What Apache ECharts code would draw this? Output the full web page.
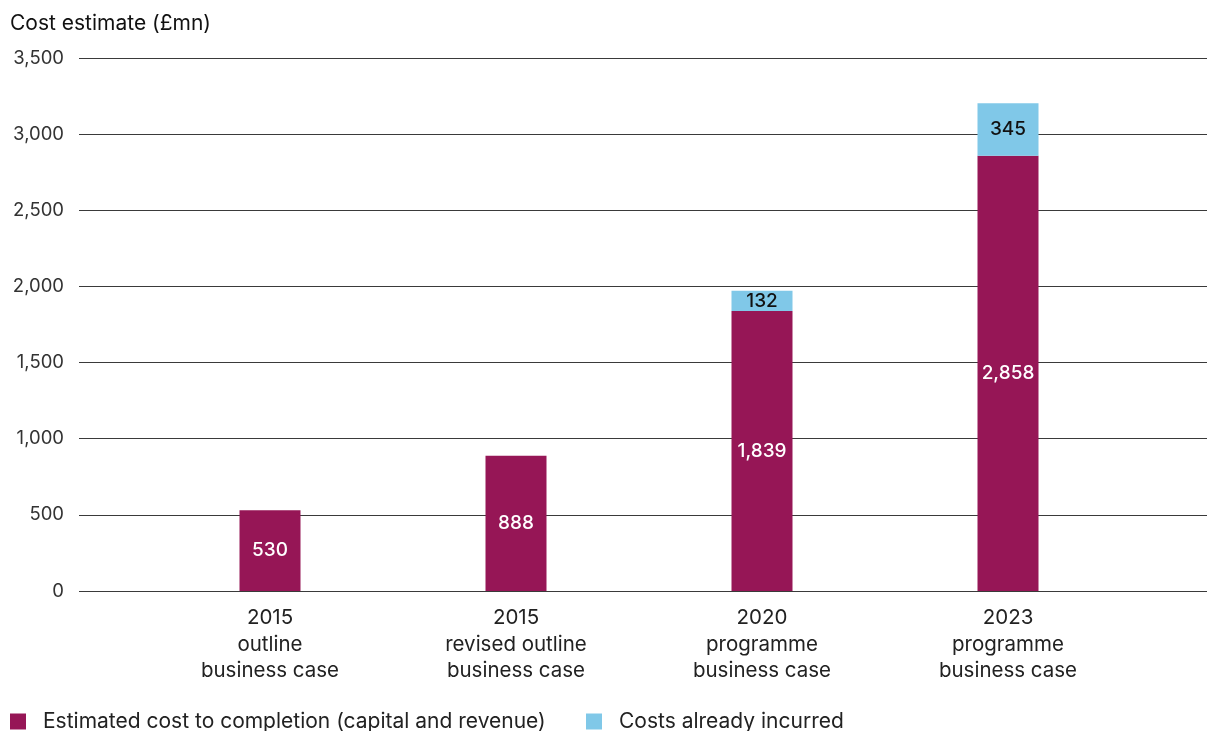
<!DOCTYPE html>
<html>
<head>
<meta charset="utf-8">
<script src="https://cdn.jsdelivr.net/npm/echarts@6/dist/echarts.min.js"></script>
<style>
  html, body { margin: 0; padding: 0; background: #fff; }
  #chart { width: 1207px; height: 731px; }
</style>
</head>
<body>
<div id="chart"></div>
<script>
const categories = [
  '2015\noutline\nbusiness case',
  '2015\nrevised outline\nbusiness case',
  '2020\nprogramme\nbusiness case',
  '2023\nprogramme\nbusiness case'
];
const estimatedToCompletion = [530, 888, 1839, 2858];
const alreadyIncurred = [null, null, 132, 345];
const yTicks = [0, 500, 1000, 1500, 2000, 2500, 3000, 3500];
const seriesNames = ['Estimated cost to completion (capital and revenue)', 'Costs already incurred'];

const FONT = 'Inter, "Liberation Sans", Arial, sans-serif';
const fmt = v => Number(v).toLocaleString('en-GB');

const legendStyle = {
  top: 706,
  itemWidth: 16, itemHeight: 16,
  icon: 'rect',
  textStyle: { fontFamily: FONT, fontSize: 21, color: '#222', padding: [0, 0, 0, 12] }
};

const chart = echarts.init(document.getElementById('chart'));

chart.setOption({
  animation: false,
  textStyle: { fontFamily: FONT },
  title: {
    text: 'Cost estimate (£mn)',
    left: 5, top: 8,
    textStyle: { fontFamily: FONT, fontSize: 21, fontWeight: 'normal', color: '#111' }
  },
  legend: [
    Object.assign({ left: 5, data: [seriesNames[0]] }, legendStyle),
    Object.assign({ left: 581, data: [seriesNames[1]] }, legendStyle)
  ],
  grid: [
    { left: 79, right: 0, top: 58, bottom: 140 },
    { left: 147, right: 76, top: 58, bottom: 140 }
  ],
  xAxis: [
    { gridIndex: 0, type: 'category', data: categories, show: false },
    {
      gridIndex: 1, type: 'category', data: categories,
      axisLine: { show: false }, axisTick: { show: false },
      axisLabel: { fontFamily: FONT, fontSize: 20.5, color: '#222', lineHeight: 26.5, margin: 14 }
    }
  ],
  yAxis: [
    {
      gridIndex: 0, type: 'value', min: yTicks[0], max: yTicks[yTicks.length - 1], interval: 500,
      axisLine: { show: false }, axisTick: { show: false },
      axisLabel: { fontFamily: FONT, fontSize: 18.5, color: '#333', margin: 15, formatter: v => fmt(v) },
      splitLine: { lineStyle: { color: '#3a3a3a', width: 1 } }
    },
    {
      gridIndex: 1, type: 'value', min: yTicks[0], max: yTicks[yTicks.length - 1], interval: 500,
      show: false, splitLine: { show: false }
    }
  ],
  series: [
    {
      name: seriesNames[0],
      type: 'bar', stack: 'cost', xAxisIndex: 1, yAxisIndex: 1,
      barWidth: 61,
      data: estimatedToCompletion,
      itemStyle: { color: '#961656' },
      label: {
        show: true, position: 'inside', color: '#fff',
        fontFamily: FONT, fontSize: 19, fontWeight: 500,
        formatter: p => fmt(p.value)
      }
    },
    {
      name: seriesNames[1],
      type: 'bar', stack: 'cost', xAxisIndex: 1, yAxisIndex: 1,
      barWidth: 61,
      data: alreadyIncurred,
      itemStyle: { color: '#80C8E8' },
      label: {
        show: true, position: 'inside', color: '#111',
        fontFamily: FONT, fontSize: 19, fontWeight: 500,
        formatter: p => fmt(p.value)
      }
    }
  ]
});
</script>
</body>
</html>
